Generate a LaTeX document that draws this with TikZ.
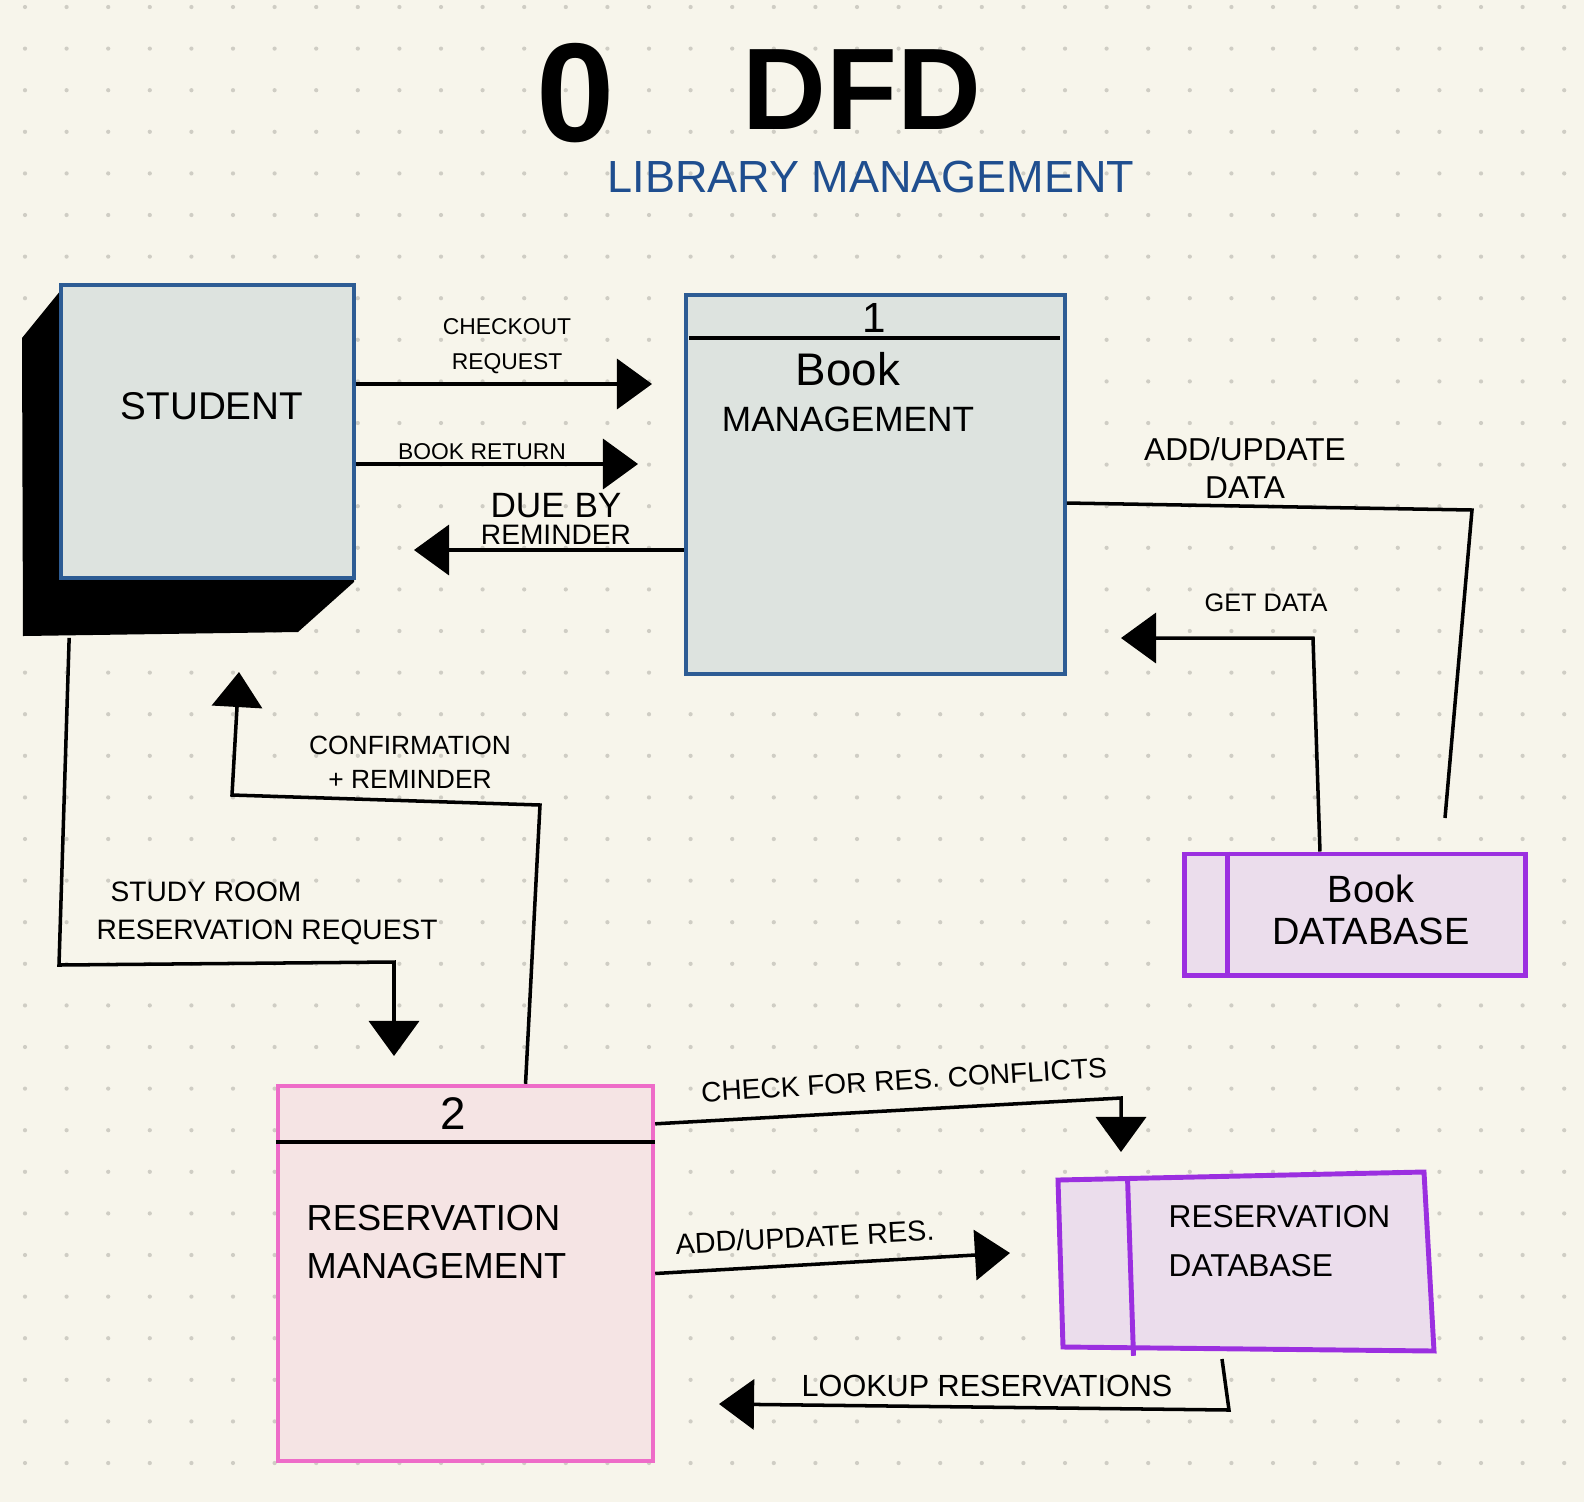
\documentclass[tikz,border=0pt]{standalone}
\usepackage{fontspec}
\setmainfont{Liberation Sans}
\usetikzlibrary{arrows.meta,positioning,calc}
\definecolor{paper}{HTML}{F7F5EB}
\definecolor{griddot}{HTML}{CFCDC4}
\definecolor{procfill}{HTML}{DDE3DF}
\definecolor{procline}{HTML}{2D5C94}
\definecolor{resfill}{HTML}{F5E4E4}
\definecolor{resline}{HTML}{EE6CC8}
\definecolor{dbfill}{HTML}{EBDDEC}
\definecolor{dbline}{HTML}{9B2FE0}
\definecolor{titleblue}{HTML}{1F4E8F}

\begin{document}
\begin{tikzpicture}[x=0.01cm, y=-0.01cm,
			proc/.style = {draw=procline, fill=procfill, line width=1pt, inner sep=0pt},
			resproc/.style = {draw=resline, fill=resfill, line width=1.2pt, inner sep=0pt},
			store/.style = {draw=dbline, fill=dbfill, line width=1.4pt, inner sep=0pt},
			wire/.style = {draw, line width=1pt},
			flow/.style = {wire, -{Triangle[length=3.5mm, width=5mm]}},
			lbl/.style = {inner sep=0pt, align=center},
			]
		
					\fill[paper] (0,0) rectangle (1584,1502);    % <--- paper
					\foreach \i in {0,...,37} % dot grid
					\foreach \j in {0,...,35}
					\fill[griddot] (25+41.6*\i,7+41.6*\j) circle[radius=0.6pt];
					
					% title
					\node[font=\fontsize{40}{40}\selectfont\bfseries] (zero) at (576,93) {0};
					\node[font=\fontsize{33}{33}\selectfont\bfseries] (dfd) at (862,90) {DFD};
					\node[text=titleblue, font=\fontsize{12.8}{12.8}\selectfont] (libtitle) at (871,177) {LIBRARY MANAGEMENT};
					
					% student with its shadow
					\fill (61,290) -- (22,338) -- (23,636) -- (298,632) -- (354,582) -- (354,578) -- (61,578) -- cycle;
					\node[proc, minimum width=2.93cm, minimum height=2.93cm] (student) at (207.5,431.5) {};
					\node[font=\fontsize{11}{11}\selectfont] (studenttxt) at (212,406) {STUDENT};
					
					% process 1
					\node[proc, minimum width=3.79cm, minimum height=3.79cm] (book) at (875.5,484.5) {};
					\draw[wire] ([xshift=0.5mm,yshift=-4.5mm]book.north west) -- ([xshift=-0.7mm,yshift=-4.5mm]book.north east);
					\node[font=\fontsize{12}{12}\selectfont] (booknum) at (874,318) {1};
					\node[lbl] (booktxt) at (848,392) {{\fontsize{13}{13}\selectfont Book}\\[1pt]{\fontsize{10}{10}\selectfont MANAGEMENT}};
					
					% process 2
					\node[resproc, minimum width=3.75cm, minimum height=3.75cm] (res) at (465.5,1273.5) {};
					\draw[wire] ([yshift=-5.8mm]res.north west) -- ([yshift=-5.8mm]res.north east);
					\node[font=\fontsize{13}{13}\selectfont] (resnum) at (453,1114) {2};
					\node[lbl, align=left, anchor=west, font=\fontsize{10.3}{13.4}\selectfont] (restxt) at (306,1242) {RESERVATION\\MANAGEMENT};
					
					% data stores
					\node[store, minimum width=3.4cm, minimum height=1.21cm] (bookdb) at (1355,914.5) {};
					\draw[dbline, line width=1.4pt] ([xshift=4.5mm]bookdb.north west) -- ([xshift=4.5mm]bookdb.south west);
					\node[lbl, font=\fontsize{10.8}{12}\selectfont] (bookdbtxt) at (1371,910) {Book\\DATABASE};
					
					\coordinate (rdtl) at (1058,1180);
					\coordinate (rdtr) at (1424,1172);
					\coordinate (rdbr) at (1434,1351);
					\coordinate (rdbl) at (1063,1347);
					\draw[store] (rdtl) -- (rdtr) -- (rdbr) -- (rdbl) -- cycle;
					\draw[dbline, line width=1.4pt] ($(rdtl)!0.19!(rdtr)$) -- ($(rdbl)!0.19!(rdbr)+(0,8)$);
					\node[lbl, align=left, anchor=west, font=\fontsize{9}{13.7}\selectfont] (resdbtxt) at (1168,1241) {RESERVATION\\DATABASE};
					
					% flows between student and process 1
					\coordinate (ckend) at (652,384);
					\draw[flow] (student.east |- ckend) -- (ckend);
					\node[lbl, font=\fontsize{6.5}{10}\selectfont] (cklbl) at (507,346) {CHECKOUT\\REQUEST};
					
					\coordinate (brend) at (638,464);
					\draw[flow] (student.east |- brend) -- (brend);
					\node[lbl, font=\fontsize{6.5}{6.5}\selectfont] (brlbl) at (482,452) {BOOK RETURN};
					
					\coordinate (dbend) at (414,550);
					\draw[flow] (book.west |- dbend) -- (dbend);
					\node[lbl, font=\fontsize{8}{7.7}\selectfont] (dblbl) at (556,519) {{\fontsize{10}{7.7}\selectfont DUE BY}\\REMINDER};
					
					% flows between process 1 and book database
					\coordinate (adc) at (1472,510);
					\coordinate (adend) at (1445,818);
					\draw[wire] ([yshift=-1.85mm]book.east) -- (adc) -- (adend);
					\node[lbl, font=\fontsize{9}{11}\selectfont] (adlbl) at (1245,468) {ADD/UPDATE\\DATA};
					
					\coordinate (gdc) at (1313,638);
					\coordinate (gdend) at (1121,638);
					\draw[flow] ([xshift=-3.5mm]bookdb.north) -- (gdc) -- (gdend);
					\node[lbl, font=\fontsize{7.2}{7.2}\selectfont] (gdlbl) at (1266,603) {GET DATA};
					
					% flows between student and process 2
					\coordinate (src1) at (59,965);
					\coordinate (src2) at (394,962);
					\coordinate (srend) at (394,1056);
					\draw[flow] ([xshift=1mm,yshift=-5.8mm]student.south west) -- (src1) -- (src2) -- (srend);
					\node[lbl, align=left, anchor=west, font=\fontsize{8}{10.8}\selectfont] (srlbl) at (96,913) {\hspace*{1.4mm}STUDY ROOM\\RESERVATION REQUEST};
					
					\coordinate (cfc1) at (540,805);
					\coordinate (cfc2) at (232,795);
					\coordinate (cfend) at (239,672);
					\draw[flow] ([xshift=6mm]res.north) -- (cfc1) -- (cfc2) -- (cfend);
					\node[lbl, font=\fontsize{7.5}{9.7}\selectfont] (cflbl) at (410,762) {CONFIRMATION\\+ REMINDER};
					
					% flows between process 2 and reservation database
					\coordinate (ccc) at (1121,1098);
					\coordinate (ccend) at (1121,1152);
					\draw[flow] ([yshift=-4mm]res.north east) -- (ccc) -- (ccend);
					\node[lbl, rotate=3.5, font=\fontsize{8}{8}\selectfont] (cclbl) at (904,1080) {CHECK FOR RES. CONFLICTS};
					
					\coordinate (arend) at (1010,1253);
					\draw[flow] (res.east) -- (arend);
					\node[lbl, rotate=3, font=\fontsize{8.2}{8.2}\selectfont] (arlbl) at (805,1237) {ADD/UPDATE RES.};
					
					\coordinate (lkstart) at (1222,1359);
					\coordinate (lkc) at (1229,1410);
					\coordinate (lkend) at (719,1404);
					\draw[flow] (lkstart) -- (lkc) -- (lkend);
					\node[lbl, font=\fontsize{8.7}{8.7}\selectfont] (lklbl) at (987,1386) {LOOKUP RESERVATIONS};
					
		\end{tikzpicture}
\end{document}
